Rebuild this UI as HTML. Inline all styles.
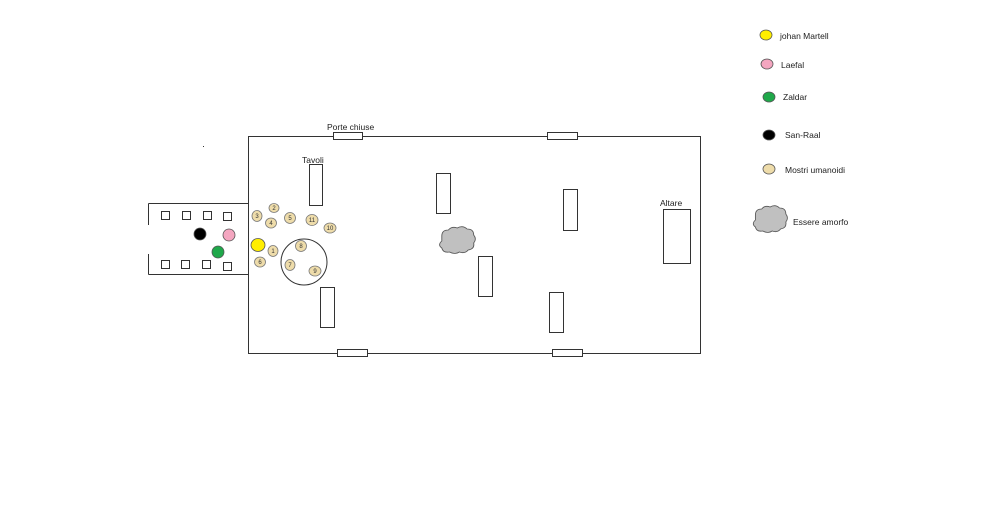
<!DOCTYPE html>
<html><head><meta charset="utf-8"><style>html,body{margin:0;padding:0;background:#fff}svg{display:block}</style></head>
<body>
<svg width="1000" height="517" viewBox="0 0 1000 517" xmlns="http://www.w3.org/2000/svg" font-family="Liberation Sans, sans-serif">
<defs>
<g id="cloud"><path d="M-12,-6 q0,-6 6,-6 q3,-4 8,-2 q5,-3 9,1 q6,0 6,6 q3,4 0,8 q1,6 -5,7 q-3,4 -8,2 q-4,3 -9,0 q-6,1 -7,-4 q-4,-3 0,-7 z" fill="#c0c0c0" stroke="#555" stroke-width="0.8"/></g>
</defs>
<g fill="none" stroke="#333" stroke-width="1">
<rect x="248.5" y="136.5" width="452" height="217"/>
<line x1="148.5" y1="203.5" x2="248.5" y2="203.5"/>
<line x1="148.5" y1="274.5" x2="248.5" y2="274.5"/>
<line x1="148.5" y1="203.5" x2="148.5" y2="225"/>
<line x1="148.5" y1="254" x2="148.5" y2="274.5"/>
<rect x="161.5" y="211.5" width="8" height="8"/><rect x="182.5" y="211.5" width="8" height="8"/><rect x="203.5" y="211.5" width="8" height="8"/><rect x="223.5" y="212.5" width="8" height="8"/>
<rect x="161.5" y="260.5" width="8" height="8"/><rect x="181.5" y="260.5" width="8" height="8"/><rect x="202.5" y="260.5" width="8" height="8"/><rect x="223.5" y="262.5" width="8" height="8"/>
<rect x="309.5" y="164.5" width="13" height="41"/>
<rect x="436.5" y="173.5" width="14" height="40"/>
<rect x="563.5" y="189.5" width="14" height="41"/>
<rect x="478.5" y="256.5" width="14" height="40"/>
<rect x="320.5" y="287.5" width="14" height="40"/>
<rect x="549.5" y="292.5" width="14" height="40"/>
<rect x="663.5" y="209.5" width="27" height="54"/>
<circle cx="304" cy="262" r="23"/>
</g>
<g fill="#fff" stroke="#333">
<rect x="333.5" y="132.5" width="29" height="7"/>
<rect x="547.5" y="132.5" width="30" height="7"/>
<rect x="337.5" y="349.5" width="30" height="7"/>
<rect x="552.5" y="349.5" width="30" height="7"/>
</g>
<g stroke="#555" stroke-width="0.8">
<circle cx="200" cy="234" r="6" fill="#000"/>
<circle cx="229" cy="235" r="6" fill="#f4a6c0"/>
<circle cx="218" cy="252" r="6" fill="#1fa84a"/>
<ellipse cx="258" cy="245" rx="7" ry="6.5" fill="#ffee00"/>
</g>
<g fill="#eedcaa" stroke="#777" stroke-width="0.8">
<ellipse cx="257" cy="216" rx="5" ry="5.5"/><ellipse cx="274" cy="208" rx="5" ry="4.5"/><ellipse cx="271" cy="223" rx="5.5" ry="5"/><ellipse cx="290" cy="218" rx="5.5" ry="5.5"/><ellipse cx="312" cy="220" rx="6" ry="5.5"/><ellipse cx="330" cy="228" rx="6" ry="5"/><ellipse cx="273" cy="251" rx="5" ry="5.5"/><ellipse cx="260" cy="262" rx="5.5" ry="5"/><ellipse cx="301" cy="246" rx="5.5" ry="5.5"/><ellipse cx="290" cy="265" rx="5" ry="5.5"/><ellipse cx="315" cy="271" rx="6" ry="5"/>
</g>
<g font-size="6" text-anchor="middle" fill="#333">
<text x="257" y="218">3</text><text x="274" y="210">2</text><text x="271" y="225">4</text><text x="290" y="220">5</text><text x="312" y="222">11</text><text x="330" y="230">10</text><text x="273" y="253">1</text><text x="260" y="264">6</text><text x="301" y="248">8</text><text x="290" y="267">7</text><text x="315" y="273">9</text>
</g>
<use href="#cloud" transform="translate(455,242) scale(1.1,1.0)"/>
<use href="#cloud" transform="translate(768,221) scale(1.05,1.0)"/>
<rect x="203" y="146" width="1" height="1" fill="#333"/>
<g font-size="8.5" fill="#222">
<text x="327" y="130">Porte chiuse</text>
<text x="302" y="163">Tavoli</text>
<text x="660" y="206">Altare</text>
<text x="780" y="39">johan Martell</text>
<text x="781" y="68">Laefal</text>
<text x="783" y="100">Zaldar</text>
<text x="785" y="138">San-Raal</text>
<text x="785" y="173">Mostri umanoidi</text>
<text x="793" y="225">Essere amorfo</text>
</g>
<g stroke="#555" stroke-width="0.8">
<ellipse cx="766" cy="35" rx="6" ry="5" fill="#ffee00"/>
<ellipse cx="767" cy="64" rx="6" ry="5" fill="#f4a6c0"/>
<ellipse cx="769" cy="97" rx="6" ry="5" fill="#1fa84a"/>
<ellipse cx="769" cy="135" rx="6" ry="5" fill="#000"/>
<ellipse cx="769" cy="169" rx="6" ry="5" fill="#eedcaa"/>
</g>
</svg>
</body></html>
